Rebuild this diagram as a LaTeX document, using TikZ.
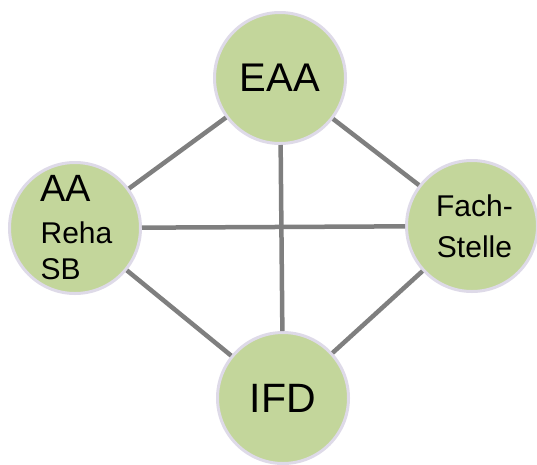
\documentclass[tikz,border=0pt]{standalone}
\usepackage{fontspec}
\setmainfont{Liberation Sans}
\definecolor{knotgreen}{HTML}{C3D69B}
\definecolor{knotrim}{HTML}{DEDAE8}
\definecolor{linkgray}{HTML}{7F7F7F}

\begin{document}
\begin{tikzpicture}
        [
        x=1pt,y=-1pt,
        every node/.style={draw=knotrim,fill=knotgreen,line width=3pt,circle,minimum size=131pt,inner sep=0pt},
        link/.style={draw=linkgray,line width=4.5pt}
        ]
        \useasboundingbox (0,0) rectangle (537,464);
        \node (eaa)  at (280,78)  {\fontsize{40}{42}\selectfont EAA};
        \node[align=left,font=\fontsize{30}{34}\selectfont] (aa) at (75,228)
                {\hspace*{3pt}\fontsize{38}{40}\selectfont AA\\[8pt]\hspace*{3pt}Reha\\[2pt]\hspace*{3pt}SB};
        \node[align=center,font=\fontsize{30}{40}\selectfont] (fach) at (472,226)
                {\hspace*{5pt}Fach-\\[1pt]\hspace*{5pt}Stelle};
        \node (ifd)  at (283,398) {\fontsize{41}{44}\selectfont IFD};

        \draw[link] (aa) -- (eaa);
        \draw[link] (eaa) -- (fach);
        \draw[link] (aa) -- (fach);
        \draw[link] (eaa) -- (ifd);
        \draw[link] (aa) -- (ifd);
        \draw[link] (fach) -- (ifd);
\end{tikzpicture}
\end{document}
